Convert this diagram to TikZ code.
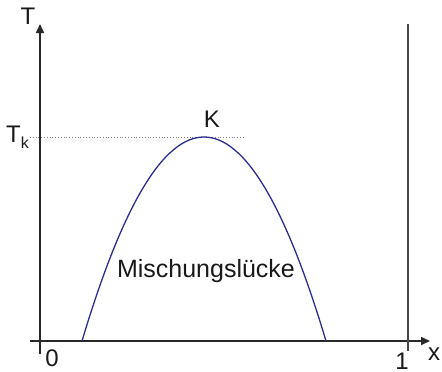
\documentclass[tikz,border=0pt]{standalone}
\usepackage{fontspec}
\setmainfont{Liberation Sans}
\usetikzlibrary{arrows.meta}
\definecolor{curveblue}{RGB}{45,45,145}
\definecolor{axisgray}{RGB}{40,40,40}
\begin{document}
\begin{tikzpicture}[x=1pt,y=-1pt,
  axisline/.style={draw=axisgray,line width=1.6pt},
  lbl/.style={font=\fontsize{24}{24}\selectfont,inner sep=0pt,text=black!90},
  tip/.style={-{Triangle[length=9pt,width=8pt]}}]
\useasboundingbox (0,0) rectangle (442,372);
% coordinates
\coordinate (ybot) at (40,354);
\coordinate (ytop) at (40,24);
\coordinate (xleft) at (30,341);
\coordinate (xright) at (430,341);
\coordinate (rtop) at (407.5,24);
\coordinate (rbot) at (407.5,351);
\coordinate (tkl) at (30,137);
\coordinate (tkr) at (245,137);
\coordinate (cl) at (82,341);
\coordinate (cr) at (326,341);
% lines
\draw[draw=gray,line width=0.8pt,dotted] (tkl) -- (tkr);
\draw[axisline,tip] (ybot) -- (ytop);
\draw[axisline,tip] (xleft) -- (xright);
\draw[draw=axisgray!85,line width=2pt] (rbot) -- (rtop);
\draw[curveblue,line width=1.3pt] (cl) .. controls (163.3,69) and (244.7,69) .. (cr);
% labels
\node[lbl] (T) at (28,16) {T};
\node[lbl,anchor=base west] (Tk) at (6,142) {T\raisebox{-6pt}{\fontsize{16}{16}\selectfont k}};
\node[lbl] (K) at (212,119) {K};
\node[lbl] (zero) at (52,358.5) {0};
\node[lbl] (one) at (402,361) {1};
\node[lbl] (xl) at (434,354) {x};
\node[lbl,font=\fontsize{25}{25}\selectfont] (ml) at (206,271) {Mischungslücke};
\end{tikzpicture}
\end{document}
